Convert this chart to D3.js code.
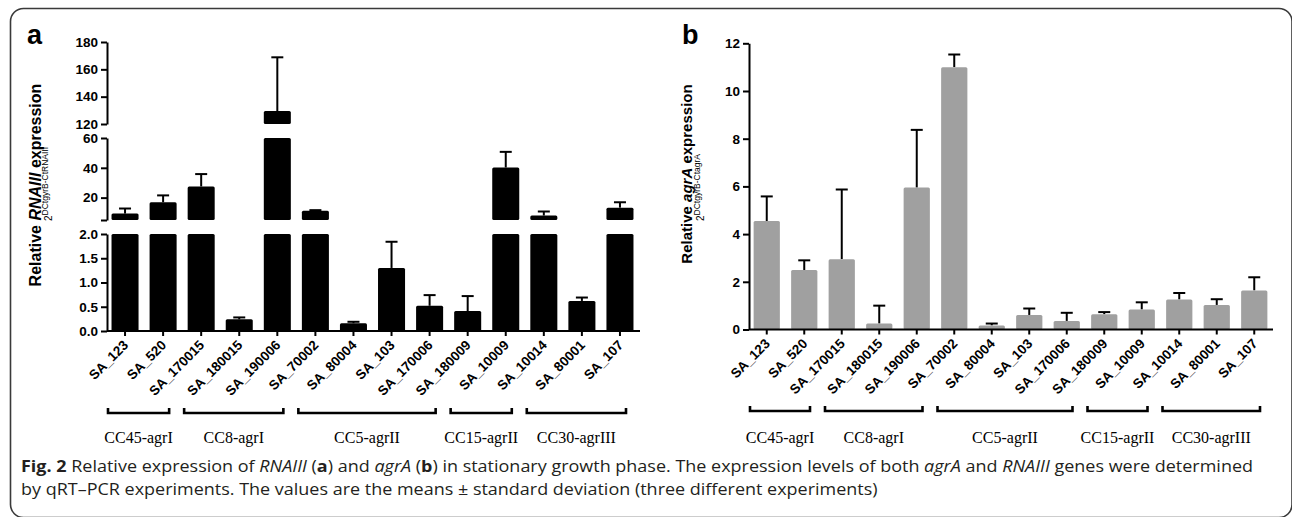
<!DOCTYPE html>
<html><head><meta charset="utf-8">
<script src="https://cdn.jsdelivr.net/npm/d3@7"></script>
<style>
html,body{margin:0;padding:0;background:#fff;}
svg{display:block;}
</style></head>
<body>
<svg id="chart" width="1292" height="517"></svg>
<script>
// ---------------- data ----------------
const categories = ["SA_123","SA_520","SA_170015","SA_180015","SA_190006","SA_70002","SA_80004","SA_103","SA_170006","SA_180009","SA_10009","SA_10014","SA_80001","SA_107"];
const rnaMeans = [9.3, 16.9, 27.5, 0.24, 129.5, 11.2, 0.16, 1.30, 0.52, 0.41, 40.2, 8.0, 0.62, 13.3];
const rnaSD    = [3.4, 4.6, 8.3, 0.04, 39.3, 0.4, 0.03, 0.54, 0.22, 0.31, 10.5, 2.7, 0.07, 3.6];
const agrMeans = [4.55, 2.49, 2.95, 0.25, 5.95, 11.0, 0.17, 0.61, 0.36, 0.64, 0.84, 1.26, 1.03, 1.64];
const agrSD    = [1.03, 0.41, 2.92, 0.75, 2.42, 0.53, 0.08, 0.27, 0.34, 0.09, 0.30, 0.27, 0.24, 0.55];
const groupNames = ["CC45-agrI","CC8-agrI","CC5-agrII","CC15-agrII","CC30-agrIII"];
const groupFirst = ["SA_123","SA_170015","SA_70002","SA_180009","SA_10014"];
const groupLast  = ["SA_520","SA_190006","SA_170006","SA_10009","SA_107"];
const lowTicks  = [0, 0.5, 1.0, 1.5, 2.0];
const midTicks  = [5, 20, 40, 60];
const highTicks = [120, 140, 160, 180];
const agrTicks  = [0, 2, 4, 6, 8, 10, 12];

// ---------------- setup ----------------
const svg = d3.select("#chart");
const FONT = "'Liberation Sans', Arial, sans-serif";
const SERIF = "'Liberation Serif', 'Times New Roman', serif";

// frame
svg.append("rect").attr("x",10.5).attr("y",8.5).attr("width",1281.5).attr("height",509)
  .attr("rx",13).attr("fill","none").attr("stroke","#3a3a3a").attr("stroke-width",1.6);

function styleAxis(g){
  g.selectAll("path.domain").attr("stroke","#000").attr("stroke-width",2);
  g.selectAll(".tick line").attr("stroke","#000").attr("stroke-width",2);
  g.selectAll(".tick text").attr("font-family",FONT).attr("font-weight","bold").attr("font-size",13.5).attr("fill","#000");
}

function drawXLabels(g, x, axisY){
  const labels = g.append("g");
  categories.forEach(c=>{
    labels.append("text")
      .attr("transform",`translate(${x(c)+x.bandwidth()/2+4},${axisY+15}) rotate(-45)`)
      .attr("text-anchor","end")
      .attr("font-family",FONT).attr("font-weight","bold").attr("font-size",13.5)
      .text(c);
  });
}

function drawGroups(g, x, bracketY, labelY){
  const step = x.step();
  groupNames.forEach((name,i)=>{
    const x0 = x(groupFirst[i]) + x.bandwidth()/2 - step/2 + 2;
    const x1 = x(groupLast[i]) + x.bandwidth()/2 + step/2 - 13;
    g.append("path")
      .attr("d",`M${x0},${bracketY-5}V${bracketY}H${x1}V${bracketY-5}`)
      .attr("fill","none").attr("stroke","#000").attr("stroke-width",2.6);
    g.append("text").attr("x",(x0+x1)/2).attr("y",labelY)
      .attr("text-anchor","middle").attr("font-family",SERIF).attr("font-size",16)
      .text(name);
  });
}

function errorBar(g, cx, yTop, yVal){
  g.append("line").attr("x1",cx).attr("x2",cx).attr("y1",yVal).attr("y2",yTop)
    .attr("stroke","#000").attr("stroke-width",2);
  g.append("line").attr("x1",cx-6).attr("x2",cx+6).attr("y1",yTop).attr("y2",yTop)
    .attr("stroke","#000").attr("stroke-width",2);
}

// ---------------- panel a ----------------
const A = svg.append("g");
const xA = d3.scaleBand().domain(categories).range([106,639]).paddingInner(0.29).paddingOuter(0.145);
const yLow  = d3.scaleLinear().domain([0,2]).range([331,234]);
const yMid  = d3.scaleLinear().domain([5,60]).range([220,138]);
const yHigh = d3.scaleLinear().domain([120,180]).range([124,42]);
const axisXA = 107;

A.append("g").attr("transform",`translate(${axisXA},0)`)
  .call(d3.axisLeft(yLow).tickValues(lowTicks).tickFormat(d3.format(".1f")).tickSize(6).tickSizeOuter(0).tickPadding(3))
  .call(styleAxis);
A.append("g").attr("transform",`translate(${axisXA},0)`)
  .call(d3.axisLeft(yMid).tickValues(midTicks).tickFormat(d=> d===5 ? "" : d).tickSize(6).tickSizeOuter(0).tickPadding(3))
  .call(styleAxis);
A.append("g").attr("transform",`translate(${axisXA},0)`)
  .call(d3.axisLeft(yHigh).tickValues(highTicks).tickSize(6).tickSizeOuter(0).tickPadding(3))
  .call(styleAxis);

// bars (broken axis)
const barsA = A.append("g");
categories.forEach((c,i)=>{
  const v = rnaMeans[i], e = rnaSD[i];
  const bx = xA(c), bw = xA.bandwidth(), cx = bx + bw/2;
  const segs = [];
  if (v <= 2) segs.push([yLow(0), yLow(v)]);
  else {
    segs.push([yLow(0), yLow(2)]);
    if (v <= 60) segs.push([yMid(5), yMid(v)]);
    else { segs.push([yMid(5), yMid(60)]); segs.push([yHigh(120), yHigh(v)]); }
  }
  const sc = v <= 2 ? yLow : (v <= 60 ? yMid : yHigh);
  errorBar(barsA, cx, sc(v+e), sc(v));
  segs.forEach(([b,t])=>{
    barsA.append("rect").attr("x",bx).attr("width",bw).attr("y",t).attr("height",b-t)
      .attr("rx",1.5).attr("fill","#000");
  });
});

A.append("g").attr("transform",`translate(0,331)`)
  .call(d3.axisBottom(xA).tickSize(5).tickSizeOuter(0).tickFormat(""))
  .call(styleAxis)
  .select("path.domain").attr("d","M107,0H640");
drawXLabels(A, xA, 331);
drawGroups(A, xA, 413, 443);

A.append("text").attr("x",27).attr("y",44).attr("font-family",FONT).attr("font-weight","bold")
  .attr("font-size",27).text("a");
const tA = A.append("text").attr("transform","translate(41,185) rotate(-90)").attr("text-anchor","middle")
  .attr("font-family",FONT).attr("font-weight","bold").attr("font-size",16);
tA.append("tspan").text("Relative ");
tA.append("tspan").attr("font-style","italic").text("RNAIII");
tA.append("tspan").text(" expression");
const sA = A.append("text").attr("transform","translate(52,221) rotate(-90)")
  .attr("font-family",FONT).attr("font-size",10);
sA.append("tspan").text("2");
sA.append("tspan").attr("dy",-4).attr("font-size",8.5).text("DCtgyrB-CtRNAIII");

// ---------------- panel b ----------------
const B = svg.append("g");
const xB = d3.scaleBand().domain(categories).range([748,1273]).paddingInner(0.3).paddingOuter(0.15);
const yB = d3.scaleLinear().domain([0,12]).range([329.5,43.3]);
const axisXB = 749;

B.append("g").attr("transform",`translate(${axisXB},0)`)
  .call(d3.axisLeft(yB).tickValues(agrTicks).tickSize(6).tickSizeOuter(0).tickPadding(3))
  .call(styleAxis);

const barsB = B.append("g");
categories.forEach((c,i)=>{
  const v = agrMeans[i], e = agrSD[i];
  const bx = xB(c), bw = xB.bandwidth(), cx = bx + bw/2;
  errorBar(barsB, cx, yB(v+e), yB(v));
  barsB.append("rect").attr("x",bx).attr("width",bw).attr("y",yB(v)).attr("height",yB(0)-yB(v))
    .attr("rx",1.5).attr("fill","#a0a0a0");
});

B.append("g").attr("transform",`translate(0,329.5)`)
  .call(d3.axisBottom(xB).tickSize(5).tickSizeOuter(0).tickFormat(""))
  .call(styleAxis)
  .select("path.domain").attr("d","M749,0H1273");
drawXLabels(B, xB, 329.5);
drawGroups(B, xB, 411, 443);

B.append("text").attr("x",682).attr("y",44).attr("font-family",FONT).attr("font-weight","bold")
  .attr("font-size",27).text("b");
const tB = B.append("text").attr("transform","translate(692,174) rotate(-90)").attr("text-anchor","middle")
  .attr("font-family",FONT).attr("font-weight","bold").attr("font-size",15);
tB.append("tspan").text("Relative ");
tB.append("tspan").attr("font-style","italic").text("agrA");
tB.append("tspan").text(" expression");
const sB = B.append("text").attr("transform","translate(704,221) rotate(-90)")
  .attr("font-family",FONT).attr("font-size",10);
sB.append("tspan").text("2");
sB.append("tspan").attr("dy",-4).attr("font-size",8.5).text("DCtgyrB-CtagrA");

// ---------------- caption ----------------
const CAP = "'Open Sans', 'Noto Sans', sans-serif";
const line1 = svg.append("text").attr("x",21).attr("y",472).attr("font-family",CAP).attr("font-size",16.5).attr("fill","#231f20");
const parts1 = [["Fig. 2","b"],[" Relative expression of ",""],["RNAIII","i"],[" (",""],["a","b"],[") and ",""],["agrA","i"],[" (",""],["b","b"],[") in stationary growth phase. The expression levels of both ",""],["agrA","i"],[" and ",""],["RNAIII","i"],[" genes were determined",""]];
parts1.forEach(([t,s])=>{
  const ts = line1.append("tspan").text(t);
  if (s==="b") ts.attr("font-weight","bold");
  if (s==="i") ts.attr("font-style","italic");
});
const line2 = svg.append("text").attr("x",21).attr("y",495).attr("font-family",CAP).attr("font-size",16.5).attr("fill","#231f20")
  .text("by qRT\u2013PCR experiments. The values are the means \u00b1 standard deviation (three different experiments)");
const n1 = line1.node().getComputedTextLength();
const f = 1232 / n1;
line1.attr("textLength",1232).attr("lengthAdjust","spacingAndGlyphs");
const n2 = line2.node().getComputedTextLength();
line2.attr("textLength",n2*f).attr("lengthAdjust","spacingAndGlyphs");
</script>
</body></html>
